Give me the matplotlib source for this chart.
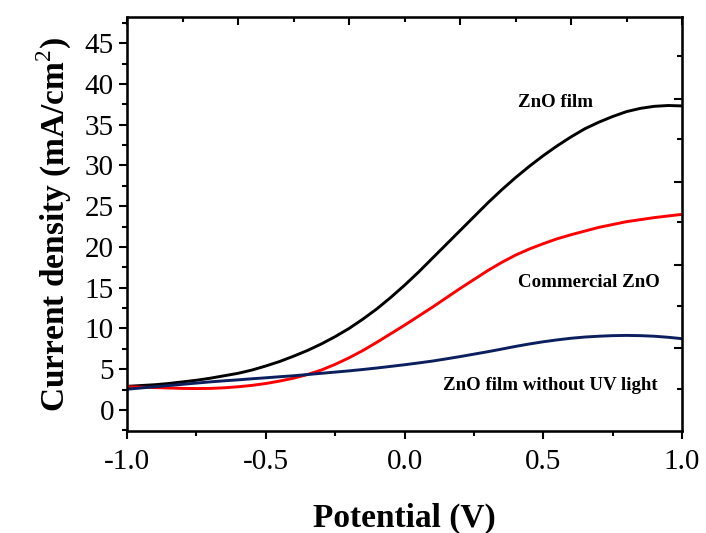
import numpy as np
import matplotlib
matplotlib.use("Agg")
import matplotlib.pyplot as plt
from matplotlib.ticker import MultipleLocator, FixedLocator, FormatStrFormatter

plt.rcParams['font.family'] = 'Liberation Serif'
plt.rcParams['mathtext.fontset'] = 'custom'
plt.rcParams['mathtext.rm'] = 'Liberation Serif'
plt.rcParams['mathtext.bf'] = 'Liberation Serif:bold'

# Potential (V), read every 0.05 V
potential = [-1.0, -0.95, -0.9, -0.85, -0.8, -0.75, -0.7, -0.65, -0.6, -0.55,
             -0.5, -0.45, -0.4, -0.35, -0.3, -0.25, -0.2, -0.15, -0.1, -0.05,
             0.0, 0.05, 0.1, 0.15, 0.2, 0.25, 0.3, 0.35, 0.4, 0.45,
             0.5, 0.55, 0.6, 0.65, 0.7, 0.75, 0.8, 0.85, 0.9, 0.95, 1.0]

# Current density (mA/cm2)
zno_film = [2.9, 3.0, 3.1, 3.25, 3.45, 3.65, 3.9, 4.2, 4.5, 4.9,
            5.4, 5.95, 6.6, 7.3, 8.1, 9.0, 10.0, 11.15, 12.4, 13.8,
            15.3, 16.9, 18.6, 20.3, 22.0, 23.7, 25.4, 27.0, 28.5, 29.9,
            31.2, 32.4, 33.5, 34.5, 35.3, 36.0, 36.6, 37.0, 37.25, 37.35, 37.3]
commercial_zno = [2.85, 2.8, 2.75, 2.7, 2.65, 2.63, 2.65, 2.72, 2.85, 3.02,
                  3.25, 3.55, 3.9, 4.35, 4.9, 5.6, 6.4, 7.3, 8.3, 9.35,
                  10.4, 11.5, 12.6, 13.75, 14.9, 16.0, 17.1, 18.1, 19.0, 19.75,
                  20.4, 21.0, 21.5, 21.95, 22.4, 22.75, 23.1, 23.35, 23.6, 23.8, 24.0]
zno_no_uv = [2.55, 2.7, 2.85, 3.0, 3.15, 3.3, 3.45, 3.58, 3.7, 3.83,
             3.95, 4.08, 4.2, 4.35, 4.5, 4.65, 4.8, 4.97, 5.15, 5.35,
             5.55, 5.77, 6.0, 6.27, 6.55, 6.85, 7.15, 7.47, 7.8, 8.1,
             8.37, 8.6, 8.8, 8.95, 9.05, 9.12, 9.15, 9.12, 9.05, 8.92, 8.75]

fig = plt.figure(figsize=(7.06, 5.33), dpi=100)
ax = fig.add_axes([0.180, 0.191, 0.786, 0.777])

ax.plot(potential, zno_film, color='black', linewidth=2.1)
ax.plot(potential, commercial_zno, color='#ff0000', linewidth=2.1)
ax.plot(potential, zno_no_uv, color='#0b1f5e', linewidth=2.1)

ax.set_xlim(-1.0, 1.0)
ax.set_ylim(-2.6, 48.2)

ax.xaxis.set_major_locator(MultipleLocator(0.5))
ax.xaxis.set_minor_locator(MultipleLocator(0.25))
ax.yaxis.set_major_locator(MultipleLocator(5))
ax.yaxis.set_minor_locator(MultipleLocator(2.5))
ax.xaxis.set_major_formatter(FormatStrFormatter('%.1f'))

ax.tick_params(which='major', direction='out', length=6, width=1.5,
               labelsize=21, top=False, right=False)
ax.tick_params(which='minor', direction='out', length=3.5, width=1.5,
               top=False, right=False)
ax.tick_params(axis='x', pad=7)

for s in ax.spines.values():
    s.set_linewidth(1.8)

# mirrored axes with their own tick spacing (top and right)
top = ax.twiny()
top.set_xlim(ax.get_xlim())
top.xaxis.set_major_locator(FixedLocator(np.arange(-1.0, 1.01, 0.4)))
top.xaxis.set_minor_locator(FixedLocator(np.arange(-0.8, 1.0, 0.4)))
top.tick_params(which='major', direction='in', length=6, width=1.5, labeltop=False)
top.tick_params(which='minor', direction='in', length=3.5, width=1.5)

right = ax.twinx()
right.set_ylim(ax.get_ylim())
right.yaxis.set_major_locator(FixedLocator(np.arange(7.6, 48, 10.2)))
right.yaxis.set_minor_locator(FixedLocator(np.arange(2.6, 48, 10.2)))
right.tick_params(which='major', direction='in', length=6, width=1.5, labelright=False)
right.tick_params(which='minor', direction='in', length=3.5, width=1.5)

ax.set_xlabel('Potential (V)', fontsize=24, fontweight='bold', labelpad=20)
ax.set_ylabel('Current density (mA/cm$^{2}$)', fontsize=24, fontweight='bold', labelpad=8)

ax.text(0.41, 37.7, 'ZnO film', fontsize=13.6, fontweight='bold', va='center')
ax.text(0.41, 15.7, 'Commercial ZnO', fontsize=13.6, fontweight='bold', va='center')
ax.text(0.14, 3.05, 'ZnO film without UV light', fontsize=13.6, fontweight='bold', va='center')

fig.savefig('out.png', dpi=100)
